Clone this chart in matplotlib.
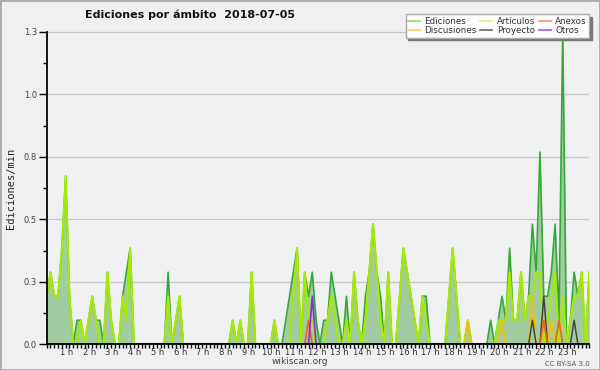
import numpy as np
import matplotlib
matplotlib.use("Agg")
import matplotlib.pyplot as plt
from matplotlib.lines import Line2D
from matplotlib.patches import Rectangle
from matplotlib.transforms import ScaledTranslation

# edits per 10-minute bin, 6 bins per hour (one row = one hour)
ediciones = [
    2, 3, 2, 2, 4, 7,   2, 0, 1, 1, 0, 1,   2, 1, 1, 0, 3, 1,   0, 0, 2, 3, 4, 0,
    0, 0, 0, 0, 0, 0,   0, 0, 3, 0, 1, 2,   0, 0, 0, 0, 0, 0,   0, 0, 0, 0, 0, 0,
    0, 1, 0, 1, 0, 0,   3, 0, 0, 0, 0, 0,   1, 0, 0, 1, 2, 3,   4, 0, 3, 2, 3, 1,
    0, 1, 1, 3, 2, 1,   0, 2, 0, 3, 1, 0,   2, 3, 5, 3, 2, 0,   3, 0, 0, 2, 4, 3,
    2, 1, 0, 2, 2, 0,   0, 0, 0, 0, 2, 4,   2, 0, 0, 1, 0, 0,   0, 0, 0, 1, 0, 1,
    2, 1, 4, 1, 1, 3,   1, 2, 5, 3, 8, 2,   2, 3, 5, 1, 13, 0,  1, 3, 2, 3, 0, 3,
]
articulos = [
    2, 3, 2, 2, 4, 7,   2, 0, 0, 1, 0, 1,   2, 1, 0, 0, 3, 1,   0, 0, 2, 1, 4, 0,
    0, 0, 0, 0, 0, 0,   0, 0, 2, 0, 1, 2,   0, 0, 0, 0, 0, 0,   0, 0, 0, 0, 0, 0,
    0, 1, 0, 1, 0, 0,   3, 0, 0, 0, 0, 0,   1, 0, 0, 0, 0, 2,   4, 0, 3, 1, 1, 0,
    0, 0, 1, 2, 1, 0,   0, 1, 0, 3, 1, 0,   1, 3, 5, 3, 1, 0,   3, 0, 0, 2, 4, 3,
    2, 1, 0, 2, 1, 0,   0, 0, 0, 0, 2, 4,   2, 0, 0, 1, 0, 0,   0, 0, 0, 0, 0, 1,
    1, 1, 3, 1, 1, 3,   1, 2, 2, 3, 3, 0,   1, 2, 3, 0, 2, 0,   1, 2, 2, 3, 0, 3,
]
# sparse series: bin index -> edits
discusiones_bins = [111, 120, 128, 131, 133]
discusiones_vals = [1, 1, 2, 1, 1]
anexos_bins = [69, 131, 135]
anexos_vals = [1, 1, 1]
proyecto_bins = [128, 131, 139]
proyecto_vals = [1, 2, 1]
otros_bins = [70]
otros_vals = [2]

hour_labels = ["%d h" % h for h in range(1, 24)]
ytick_vals = [0, 0.25, 0.5, 0.75, 1.0, 1.25]
ytick_labels = ["0.0", "0.3", "0.5", "0.8", "1.0", "1.3"]

PER_MIN = 10.4  # edits per bin -> edits/min as drawn on the chart

def sparse(bins, vals):
    arr = np.zeros(144)
    arr[bins] = vals
    return arr / PER_MIN

x = np.arange(144)
tot = np.array(ediciones) / PER_MIN
art = np.array(articulos) / PER_MIN
dis = sparse(discusiones_bins, discusiones_vals)
anx = sparse(anexos_bins, anexos_vals)
pro = sparse(proyecto_bins, proyecto_vals)
otr = sparse(otros_bins, otros_vals)

bg = "#eff0f2"
fig = plt.figure(figsize=(6, 3.7), dpi=100, facecolor=bg)
ax = fig.add_axes([46.7 / 600, 1 - 344.3 / 370, (589.3 - 46.7) / 600, 325 / 370])
ax.set_facecolor(bg)

ax.fill_between(x, tot, color="#a1cca1", lw=0, zorder=2)
ax.plot(x, tot, color="#35a935", lw=1.2, zorder=3)
ax.plot(x, art, color="#a8ea00", lw=1.5, zorder=4)
ax.plot(x, dis, color="#f5c000", lw=1.2, zorder=5)
ax.plot(x, pro, color="#444444", lw=1.1, zorder=5)
ax.plot(x, anx, color="#f06020", lw=1.2, zorder=6)
ax.plot(x, otr, color="#8a2be2", lw=1.2, zorder=6)

ax.set_xlim(0, 143)
ax.set_ylim(0, 1.3)
for s in ["top", "right"]:
    ax.spines[s].set_visible(False)
ax.spines["left"].set_bounds(0, 1.25)
for s in ["left", "bottom"]:
    ax.spines[s].set_linewidth(1.3)
    ax.spines[s].set_zorder(10)

ax.set_yticks(ytick_vals)
ax.set_yticklabels(ytick_labels)
ax.set_yticks(np.arange(0.125, 1.25, 0.25), minor=True)
ax.grid(axis="y", color="#c8c8c8", lw=0.9, zorder=1)
ax.tick_params(axis="y", which="major", length=6, width=1, labelsize=6, colors="black",
               labelcolor="#444444", pad=1)
ax.tick_params(axis="y", which="minor", length=3, width=1)

ax.set_xticks(np.arange(6, 139, 6))
ax.set_xticklabels(hour_labels)
ax.set_xticks(x, minor=True)
ax.tick_params(axis="x", which="both", length=3, width=1, direction="out")
ax.tick_params(axis="x", which="major", labelsize=6, labelcolor="#333333", pad=-0.5)
for lab in ax.get_xticklabels():
    lab.set_transform(lab.get_transform() + ScaledTranslation(-0.03, 0, fig.dpi_scale_trans))

fig.text(85 / 600, 1 - 15 / 370, "Ediciones por ámbito  2018-07-05", ha="left", va="center",
         fontsize=8, fontweight="bold", color="#111111")
fig.text(11 / 600, 1 - 188 / 370, "Ediciones/min", rotation=90, ha="center", va="center",
         fontsize=7.5, family="DejaVu Sans Mono", color="#222222")
fig.text(300 / 600, 1 - 362 / 370, "wikiscan.org", ha="center", va="center",
         fontsize=6.5, color="#444444")
fig.text(590 / 600, 1 - 363.5 / 370, "CC BY-SA 3.0", ha="right", va="center",
         fontsize=5, color="#555555")

handles = [
    Line2D([], [], color="#8fd48f", lw=1.2),
    Line2D([], [], color="#f7d060", lw=1.2),
    Line2D([], [], color="#d6f080", lw=1.2),
    Line2D([], [], color="#666666", lw=1.2),
    Line2D([], [], color="#f4956a", lw=1.2),
    Line2D([], [], color="#9b5cf0", lw=1.2),
]
names = ["Ediciones", "Discusiones", "Artículos", "Proyecto", "Anexos", "Otros"]
leg = fig.legend(handles, names, ncol=3, loc="upper right",
                 bbox_to_anchor=(593.5 / 600, 1 - 10 / 370), fontsize=6.3,
                 frameon=True, fancybox=False, framealpha=1, facecolor="#fdfdfd",
                 edgecolor="#aaaaaa", handlelength=1.4, handletextpad=0.5,
                 columnspacing=0.4, labelspacing=0.1, borderpad=0.25,
                 shadow={"ox": 2, "oy": -2, "color": "#777777", "alpha": 1})
for t in leg.get_texts():
    t.set_color("#333333")
leg.set_zorder(20)

fig.patches.append(Rectangle((0, 0), 1, 1, transform=fig.transFigure, fill=False,
                             edgecolor="#aaaaaa", lw=2))

fig.savefig("out.png", dpi=100, facecolor=bg)
